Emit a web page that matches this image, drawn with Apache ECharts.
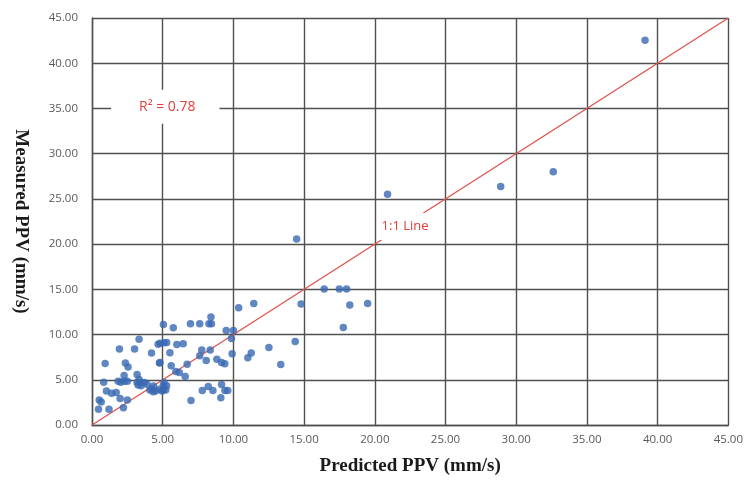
<!DOCTYPE html>
<html>
<head>
<meta charset="utf-8">
<script src="https://cdn.jsdelivr.net/npm/echarts@6/dist/echarts.min.js"></script>
<style>
  html, body { margin: 0; padding: 0; background: #fff; }
  #chart { width: 746px; height: 484px; }
</style>
</head>
<body>
<div id="chart"></div>
<script>
// predicted vs measured PPV (mm/s)
const predicted = [
  0.46, 0.51, 0.65, 1.2, 0.83, 0.93, 1.02, 1.39, 1.71, 1.85, 2.04, 2.3, 1.94, 1.99, 2.5, 2.22,
  2.36, 2.55, 2.27, 2.5, 3.01, 3.33, 3.19, 3.33, 3.19, 3.42, 3.47, 3.7, 3.89, 4.21, 4.35, 4.49,
  4.77, 4.95, 5.09, 5.05, 4.21, 4.68, 5.09, 4.77, 4.81, 5.28, 6.0, 6.45, 5.51, 7.76, 8.36, 7.62,
  8.08, 8.83, 9.16, 9.39, 9.91, 4.81, 5.6, 5.93, 6.17, 6.59, 6.73, 5.28, 5.05, 7.8, 8.22, 8.55,
  9.16, 9.4, 9.6, 9.11, 7.0, 5.05, 5.75, 6.96, 7.62, 8.27, 8.41, 8.45, 9.49, 10.0, 10.37, 9.86,
  11.44, 14.47, 16.42, 17.49, 18.0, 14.79, 18.23, 19.49, 17.77, 14.37, 12.51, 11.26, 11.02,
  13.35, 20.9, 28.9, 32.62, 39.11, 4.09, 4.33, 5.21, 3.26
];
const measured = [
  1.75, 2.77, 2.55, 1.75, 4.74, 6.79, 3.76, 3.5, 3.58, 4.85, 4.74, 4.85, 8.39, 2.92, 2.77, 1.9,
  6.86, 6.42, 5.47, 4.85, 8.39, 9.49, 5.58, 5.04, 4.7, 4.7, 4.33, 4.7, 4.5, 4.0, 4.3, 3.76,
  3.94, 3.76, 4.7, 4.33, 7.96, 8.94, 9.1, 6.86, 9.04, 9.12, 8.9, 8.97, 8.0, 8.3, 8.3, 7.65,
  7.13, 7.28, 6.9, 6.76, 7.87, 6.9, 6.54, 5.92, 5.81, 5.37, 6.73, 4.33, 3.9, 3.82, 4.26, 3.82,
  4.49, 3.82, 3.82, 3.0, 2.72, 11.1, 10.74, 11.19, 11.19, 11.19, 11.93, 11.19, 10.44, 10.44, 12.96, 9.56,
  13.44, 20.56, 15.04, 15.04, 15.04, 13.37, 13.26, 13.44, 10.78, 9.22, 8.56, 7.96, 7.44,
  6.7, 25.5, 26.36, 28.0, 42.55, 3.86, 3.68, 3.86, 4.41
];
const oneToOne = [[0, 0], [45, 45]];
const r2Text = 'R\u00b2 = 0.78';
const lineText = '1:1 Line';

const points = predicted.map((x, i) => [x, measured[i]]);

const gridColor = '#505050';
const tickLabel = { color: '#595959', fontSize: 11.5, fontFamily: 'Open Sans' };
const axisName = { color: '#1a1a1a', fontSize: 19, fontWeight: 'bold', fontFamily: 'Liberation Serif' };

const chart = echarts.init(document.getElementById('chart'));
chart.setOption({
  animation: false,
  backgroundColor: '#fff',
  grid: { left: 92, right: 16, top: 18, bottom: 59 },
  xAxis: {
    type: 'value', min: 0, max: 45, interval: 5,
    name: 'Predicted PPV (mm/s)', nameLocation: 'middle', nameGap: 32,
    nameTextStyle: axisName,
    axisLine: { show: true, lineStyle: { color: gridColor, width: 1.4 } },
    axisTick: { show: false },
    axisLabel: Object.assign({ margin: 9, formatter: v => v.toFixed(2) }, tickLabel),
    splitLine: { lineStyle: { color: gridColor, width: 1.4 } }
  },
  yAxis: {
    type: 'value', min: 0, max: 45, interval: 5,
    name: 'Measured PPV (mm/s)', nameLocation: 'middle', nameGap: 62, nameRotate: -90,
    nameTextStyle: axisName,
    axisLine: { show: true, lineStyle: { color: gridColor, width: 1.4 } },
    axisTick: { show: false },
    axisLabel: Object.assign({ margin: 14, formatter: v => v.toFixed(2) }, tickLabel),
    splitLine: { lineStyle: { color: gridColor, width: 1.4 } }
  },
  series: [
    {
      type: 'line',
      data: oneToOne,
      showSymbol: false,
      lineStyle: { color: '#e0524c', width: 1.3 },
      z: 3,
      markPoint: {
        symbol: 'rect', symbolSize: 1,
        itemStyle: { color: 'rgba(0,0,0,0)' },
        data: [
          {
            coord: [5.18, 35.2],
            label: {
              show: true, position: 'inside', formatter: r2Text,
              color: '#e0403a', fontSize: 14, fontFamily: 'Open Sans',
              backgroundColor: '#fff', padding: [9, 24, 11, 28]
            }
          },
          {
            coord: [22.14, 21.94],
            label: {
              show: true, position: 'inside', formatter: lineText,
              color: '#e0403a', fontSize: 13, fontFamily: 'Open Sans',
              backgroundColor: '#fff', padding: [7, 3, 7, 3]
            }
          }
        ]
      }
    },
    {
      type: 'scatter',
      data: points,
      symbolSize: 7.5,
      itemStyle: { color: '#3a69b3' },
      z: 4
    }
  ]
});
</script>
</body>
</html>
